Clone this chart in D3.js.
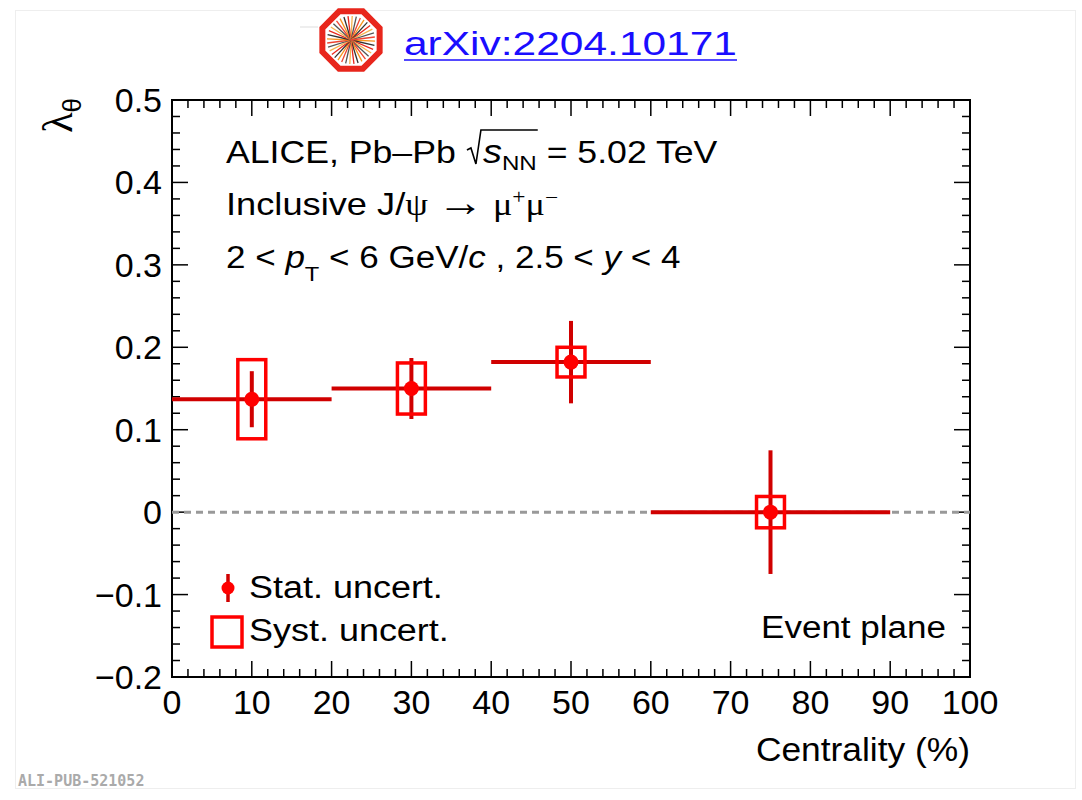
<!DOCTYPE html>
<html><head><meta charset="utf-8">
<script src="https://cdn.jsdelivr.net/npm/d3@7"></script>
<style>body{margin:0;background:#fff;} svg{display:block;}</style>
</head><body>
<svg id="c" width="1082" height="800"></svg>
<script>
// ---- data ----
const binLow  = [0, 20, 40, 60];
const binHigh = [20, 40, 60, 90];
const centers = [10, 30, 50, 75];
const lambdaTheta = [0.137, 0.150, 0.182, 0.000];
const statErr = [0.034, 0.037, 0.050, 0.075];
const systErr = [0.048, 0.031, 0.018, 0.019];
const xTicks = [0,10,20,30,40,50,60,70,80,90,100];
const yTicks = [-0.2,-0.1,0,0.1,0.2,0.3,0.4,0.5];
const xDomain = [0, 100];
const yDomain = [-0.2, 0.5];

const svg = d3.select('#c');
const L = 172, R = 970, T = 100, B = 677;
const x = d3.scaleLinear().domain(xDomain).range([L, R]);
const y = d3.scaleLinear().domain(yDomain).range([B, T]);
const font = "'Liberation Sans', Arial, Helvetica, sans-serif";
const serif = "'Liberation Serif', 'DejaVu Serif', serif";

// helper: horizontally stretched text group anchored at (x0,y0)
function sgroup(x0, y0, sx) {
  return svg.append('g').attr('transform', `translate(${x0},${y0}) scale(${sx},1)`);
}

// page frame
svg.append('rect').attr('x',15.5).attr('y',10.5).attr('width',1060).attr('height',778)
  .attr('fill','none').attr('stroke','#eeeeee').attr('stroke-width',1);

// header logo
const lg = svg.append('g').attr('transform','translate(351,40)');
svg.append('line').attr('x1',300).attr('x2',318).attr('y1',27).attr('y2',27).attr('stroke','#ddd');
const oct = d3.range(8).map(i => { const a = Math.PI/8 + i*Math.PI/4; return [31*Math.cos(a), 31*Math.sin(a)]; });
lg.append('polygon').attr('points', oct.map(p=>p.join(',')).join(' '))
  .attr('fill','#fff').attr('stroke','#e8261c').attr('stroke-width',6);
const rayCols = ['#f7941d','#333','#e8261c','#f7b24d','#555','#ee4433'];
d3.range(36).forEach(i => {
  const a = i*Math.PI/18 + 0.05;
  lg.append('line').attr('x1',0).attr('y1',0).attr('x2',24*Math.cos(a)).attr('y2',24*Math.sin(a))
    .attr('stroke', rayCols[i%rayCols.length]).attr('stroke-width',1.3);
});
svg.append('text').attr('x',404).attr('y',55).attr('font-family',font).attr('font-size',33)
  .attr('textLength',333).attr('lengthAdjust','spacingAndGlyphs')
  .attr('fill','#1a0dff').text('arXiv:2204.10171');
svg.append('line').attr('x1',404).attr('x2',737).attr('y1',60).attr('y2',60).attr('stroke','#1a0dff').attr('stroke-width',1.5);

// axes frame
svg.append('rect').attr('x',L).attr('y',T).attr('width',R-L).attr('height',B-T)
  .attr('fill','none').attr('stroke','#000').attr('stroke-width',2);

// ticks
const xMinor = d3.range(0, 101, 2);
const yMinor = d3.range(-20, 51, 2).map(v => v/100);
const tg = svg.append('g').attr('stroke','#000').attr('stroke-width',1.5);
xMinor.forEach(v => {
  const len = (v % 10 === 0) ? 16 : 8;
  tg.append('line').attr('x1',x(v)).attr('x2',x(v)).attr('y1',B).attr('y2',B-len);
  tg.append('line').attr('x1',x(v)).attr('x2',x(v)).attr('y1',T).attr('y2',T+len);
});
yMinor.forEach((v,i) => {
  const len = (i % 5 === 0) ? 16 : 8;
  tg.append('line').attr('y1',y(v)).attr('y2',y(v)).attr('x1',L).attr('x2',L+len);
  tg.append('line').attr('y1',y(v)).attr('y2',y(v)).attr('x1',R).attr('x2',R-len);
});

// tick labels
xTicks.forEach(v => {
  svg.append('text').attr('x',x(v)).attr('y',714).attr('text-anchor','middle')
    .attr('font-family',font).attr('font-size',34).text(v);
});
yTicks.forEach(v => {
  const s = v < 0 ? '\u2212' + Math.abs(v).toFixed(1) : (v === 0 ? '0' : v.toFixed(1));
  svg.append('text').attr('x',162).attr('y',y(v)+12).attr('text-anchor','end')
    .attr('font-family',font).attr('font-size',34).text(s);
});

// axis titles
sgroup(R, 761, 1.04).append('text').attr('text-anchor','end')
  .attr('font-family',font).attr('font-size',34).text('Centrality (%)');
const yl = svg.append('text').attr('transform','translate(72,98) rotate(-90)').attr('text-anchor','end')
  .attr('font-family',serif).attr('font-size',42);
yl.append('tspan').text('\u03bb');
yl.append('tspan').attr('dy',9).attr('font-size',26).attr('font-family',font).text('\u03b8');

// zero line
svg.append('line').attr('x1',x(0)).attr('x2',x(100)).attr('y1',y(0)).attr('y2',y(0))
  .attr('stroke','#999').attr('stroke-width',3).attr('stroke-dasharray','7,5');

// data
const idx = d3.range(centers.length);
const dg = svg.append('g');
const sysHalf = 1.75;
dg.selectAll('.hbar').data(idx).join('line')
  .attr('x1', i => x(binLow[i])).attr('x2', i => x(binHigh[i]))
  .attr('y1', i => y(lambdaTheta[i])).attr('y2', i => y(lambdaTheta[i]))
  .attr('stroke','#d00000').attr('stroke-width',4);
dg.selectAll('.vbar').data(idx).join('line')
  .attr('x1', i => x(centers[i])).attr('x2', i => x(centers[i]))
  .attr('y1', i => y(lambdaTheta[i]+statErr[i])).attr('y2', i => y(lambdaTheta[i]-statErr[i]))
  .attr('stroke','#d00000').attr('stroke-width',4);
dg.selectAll('.sys').data(idx).join('rect')
  .attr('x', i => x(centers[i]-sysHalf)).attr('width', i => x(centers[i]+sysHalf)-x(centers[i]-sysHalf))
  .attr('y', i => y(lambdaTheta[i]+systErr[i])).attr('height', i => y(lambdaTheta[i]-systErr[i])-y(lambdaTheta[i]+systErr[i]))
  .attr('fill','none').attr('stroke','#ff0000').attr('stroke-width',3.5);
dg.selectAll('.pt').data(idx).join('circle')
  .attr('cx', i => x(centers[i])).attr('cy', i => y(lambdaTheta[i])).attr('r',7.5)
  .attr('fill','#ff0000');

// text block
const SX1 = 1.15;
const g1 = sgroup(226, 163, SX1);
const t1 = g1.append('text').attr('font-family',font).attr('font-size',31);
const pre1 = 'ALICE, Pb\u2013Pb ';
t1.append('tspan').text(pre1);
t1.append('tspan').attr('dx',15).attr('font-style','italic').attr('font-size',33).text('s');
t1.append('tspan').attr('font-size',21).attr('dy',7).text('NN');
t1.append('tspan').attr('dy',-7).text(' = 5.02 TeV');
{
  const n = t1.node();
  const xs = 226 + SX1 * n.getStartPositionOfChar(pre1.length).x;
  const xe = 226 + SX1 * n.getEndPositionOfChar(pre1.length + 2).x;
  const by = 163;
  svg.append('path')
    .attr('d', `M${xs-16},${by-13} L${xs-12},${by-15} L${xs-7},${by+1} L${xs-2},${by-33} L${xe+1},${by-33}`)
    .attr('fill','none').attr('stroke','#000').attr('stroke-width',1.6).attr('stroke-linejoin','miter');
}

const g2 = sgroup(226, 215, 1.17);
const t2 = g2.append('text').attr('font-family',font).attr('font-size',31);
t2.append('tspan').text('Inclusive J/');
t2.append('tspan').attr('font-family',serif).text('\u03c8 ');
t2.append('tspan').attr('font-family',serif).attr('font-size',40).attr('dy',1).text('\u2192');
t2.append('tspan').attr('font-family',serif).attr('dy',-1).text(' \u03bc');
t2.append('tspan').attr('font-family',serif).attr('font-size',20).attr('dy',-11).text('+');
t2.append('tspan').attr('font-family',serif).attr('dy',11).text('\u03bc');
t2.append('tspan').attr('font-family',serif).attr('font-size',20).attr('dy',-11).text('\u2212');

const t3 = sgroup(226, 268, 1.13).append('text').attr('font-family',font).attr('font-size',31);
t3.append('tspan').text('2 < ');
t3.append('tspan').attr('font-style','italic').text('p');
t3.append('tspan').attr('font-size',21).attr('dy',13).text('T');
t3.append('tspan').attr('dy',-13).text(' < 6 GeV/');
t3.append('tspan').attr('font-style','italic').text('c');
t3.append('tspan').text(' , 2.5 < ');
t3.append('tspan').attr('font-style','italic').text('y');
t3.append('tspan').text(' < 4');

// legend
svg.append('line').attr('x1',228).attr('x2',228).attr('y1',574).attr('y2',602).attr('stroke','#d00000').attr('stroke-width',3.5);
svg.append('circle').attr('cx',228).attr('cy',588).attr('r',6.5).attr('fill','#ff0000');
sgroup(249, 598, 1.16).append('text').attr('font-family',font).attr('font-size',31).text('Stat. uncert.');
svg.append('rect').attr('x',212).attr('y',617).attr('width',30).attr('height',30)
  .attr('fill','none').attr('stroke','#ff0000').attr('stroke-width',3.5);
sgroup(249, 641, 1.16).append('text').attr('font-family',font).attr('font-size',31).text('Syst. uncert.');

sgroup(946, 638, 1.13).append('text').attr('text-anchor','end').attr('font-family',font).attr('font-size',31).text('Event plane');

// footer
svg.append('text').attr('x',18).attr('y',786).attr('font-family',"'DejaVu Sans Mono','Liberation Mono',monospace")
  .attr('font-weight','bold').attr('font-size',15).attr('fill','#aaaaaa').text('ALI-PUB-521052');
</script>
</body></html>
